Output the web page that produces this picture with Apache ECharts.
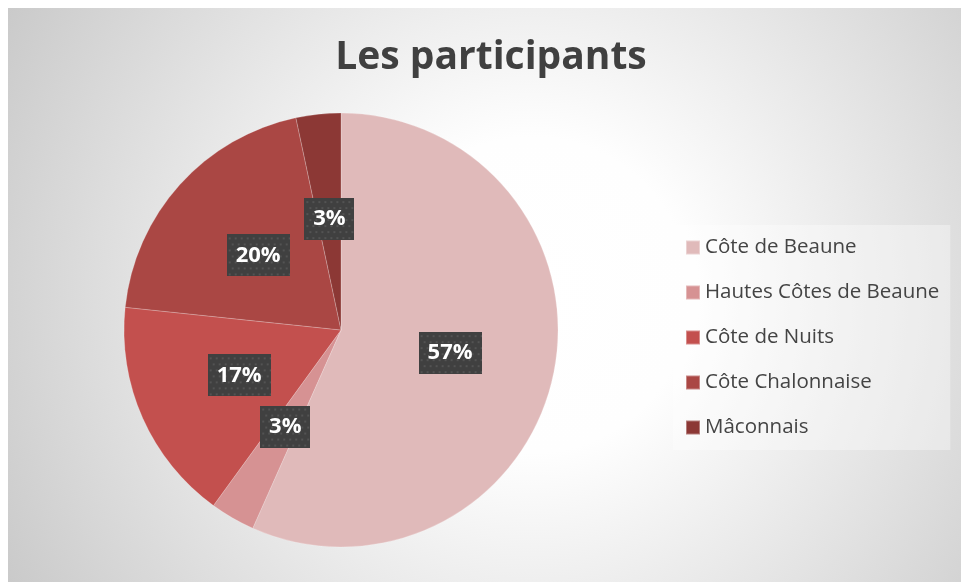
<!DOCTYPE html>
<html>
<head>
<meta charset="utf-8">
<script src="https://cdn.jsdelivr.net/npm/echarts@6/dist/echarts.min.js"></script>
<style>
  html, body { margin: 0; padding: 0; background: #fff; }
  #main { width: 961px; height: 582px; }
</style>
</head>
<body>
<div id="main"></div>
<script>
var regions = ['Côte de Beaune', 'Hautes Côtes de Beaune', 'Côte de Nuits', 'Côte Chalonnaise', 'Mâconnais'];
var participants = [17, 1, 5, 6, 1];
var colors = ['#e0baba', '#d69293', '#c3504e', '#aa4744', '#8c3835'];

// dotted dark box used behind the percentages
function dotBox (w, h) {
  var c = document.createElement('canvas');
  c.width = w; c.height = h;
  var ctx = c.getContext('2d');
  ctx.fillStyle = '#404040';
  ctx.fillRect(0, 0, w, h);
  ctx.fillStyle = '#535353';
  for (var y = 3, row = 0; y < h; y += 6, row++) {
    for (var x = (row % 2) * 3 + 2; x < w; x += 6) {
      ctx.fillRect(x, y, 2, 2);
    }
  }
  return c;
}

var myChart = echarts.init(document.getElementById('main'));
var boxText = {
  color: '#fff',
  fontFamily: 'Open Sans',
  fontWeight: 'bold',
  fontSize: 22,
  height: 42,
  lineHeight: 42,
  align: 'center',
  shadowColor: 'rgba(0,0,0,0.45)',
  shadowBlur: 6,
  shadowOffsetX: 3,
  shadowOffsetY: 4
};
var option = {
  backgroundColor: '#fff',
  color: colors,
  graphic: [{
    type: 'rect',
    left: 8,
    top: 8,
    z: -10,
    silent: true,
    shape: { width: 953, height: 574 },
    style: {
      fill: {
        type: 'radial', x: 0.55, y: 0.5, r: 1.1,
        colorStops: [
          { offset: 0, color: '#ffffff' },
          { offset: 0.25, color: '#fefefe' },
          { offset: 1, color: '#c6c6c6' }
        ]
      }
    }
  }],
  title: {
    text: 'Les participants',
    left: 486,
    top: 33,
    textAlign: 'center',
    textStyle: {
      fontFamily: 'Open Sans',
      fontWeight: 'bold',
      fontSize: 39,
      color: '#404040'
    }
  },
  legend: {
    orient: 'vertical',
    left: 673,
    top: 225,
    padding: [12, 11, 12, 12],
    itemGap: 24,
    itemWidth: 14,
    itemHeight: 14,
    icon: 'rect',
    backgroundColor: 'rgba(255,255,255,0.35)',
    data: regions,
    textStyle: {
      fontFamily: 'Open Sans',
      fontSize: 20.5,
      color: '#444'
    }
  },
  series: [{
    type: 'pie',
    center: [341, 330],
    radius: 217,
    startAngle: 90,
    clockwise: true,
    itemStyle: {
      borderColor: 'rgba(255,255,255,0.35)',
      borderWidth: 0.6
    },
    label: {
      position: 'inside',
      formatter: function (p) {
        var t = Math.round(p.percent) + '%';
        return t.length > 2 ? '{w|' + t + '}' : '{n|' + t + '}';
      },
      rich: {
        w: Object.assign({ width: 63, backgroundColor: { image: dotBox(63, 42) } }, boxText),
        n: Object.assign({ width: 50, backgroundColor: { image: dotBox(50, 42) } }, boxText)
      }
    },
    labelLine: { show: false },
    emphasis: { disabled: true },
    data: regions.map(function (name, i) {
      return { name: name, value: participants[i] };
    })
  }]
};
myChart.setOption(option);
</script>
</body>
</html>
